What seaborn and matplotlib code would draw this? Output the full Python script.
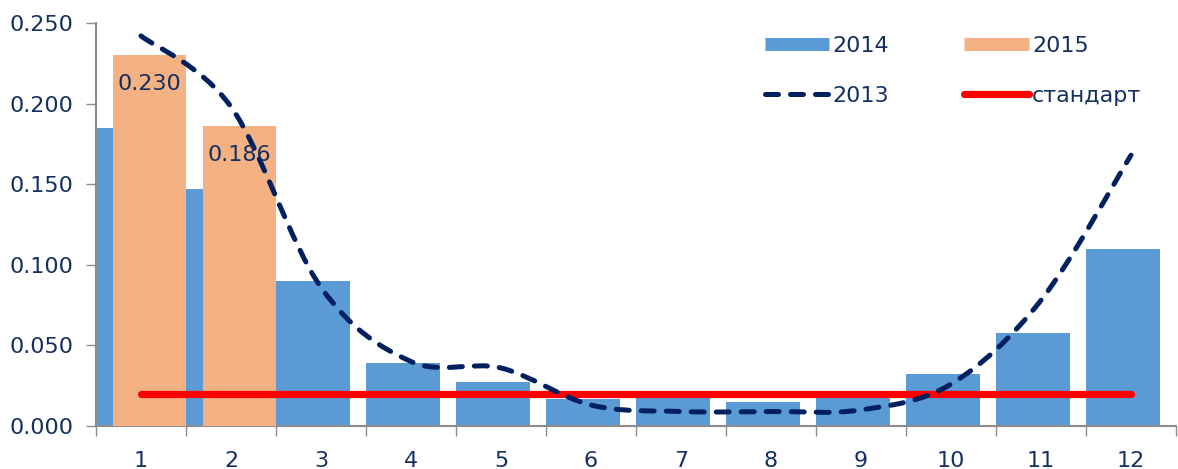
import numpy as np
import matplotlib
matplotlib.use("Agg")
import matplotlib.pyplot as plt
from matplotlib.path import Path
from matplotlib.patches import PathPatch
from matplotlib.lines import Line2D
from matplotlib import font_manager
import seaborn as sns

# data
months = np.arange(1, 13)
month_labels = ["1", "2", "3", "4", "5", "6", "7", "8", "9", "10", "11", "12"]
vals_2014 = [0.185, 0.147, 0.090, 0.039, 0.027, 0.017, 0.018, 0.015, 0.018, 0.032, 0.058, 0.110]
months_2015 = np.array([1, 2])
vals_2015 = [0.230, 0.186]
vals_2013 = [0.242, 0.198, 0.086, 0.040, 0.036, 0.013, 0.009, 0.009, 0.010, 0.026, 0.078, 0.168]
standard = [0.020, 0.020, 0.020, 0.020, 0.020, 0.020, 0.020, 0.020, 0.020, 0.020, 0.020, 0.020]
y_ticks = [0.000, 0.050, 0.100, 0.150, 0.200, 0.250]

blue = "#5B9BD5"
orange = "#F4B183"
navy = "#002060"
txt = "#14305F"
grey = "#8C8C8C"

sns.set_style("white")
names = {f.name for f in font_manager.fontManager.ttflist}
fam = "DejaVu Sans Condensed" if "DejaVu Sans Condensed" in names else "DejaVu Sans"
plt.rcParams["font.family"] = [fam, "DejaVu Sans"]
fs = 16

fig = plt.figure(figsize=(11.78, 4.69), dpi=100)
ax = fig.add_axes([96 / 1178, 43 / 469, 1080 / 1178, 403 / 469])

# bars: 2014 sits at the left of each category, 2015 overlaps it on the right
sns.barplot(x=months - 0.09, y=vals_2014, native_scale=True, width=0.82, orient="x",
            color=blue, saturation=1, linewidth=0, ax=ax, zorder=2)
sns.barplot(x=months_2015 + 0.094, y=vals_2015, native_scale=True, width=0.812, orient="x",
            color=orange, saturation=1, linewidth=0, ax=ax, zorder=3)

# standard
sns.lineplot(x=months, y=standard, color="red", linewidth=5.2, solid_capstyle="round",
             ax=ax, zorder=4)

# 2013 smoothed line (Bezier through the monthly points, like Excel)
pts = np.column_stack([months, vals_2013]).astype(float)
verts = [tuple(pts[0])]
codes = [Path.MOVETO]
n = len(pts)
for i in range(n - 1):
    p0 = pts[i - 1] if i > 0 else pts[i]
    p3 = pts[i + 2] if i + 2 < n else pts[i + 1]
    c1 = pts[i] + (pts[i + 1] - p0) / 6
    c2 = pts[i + 1] - (p3 - pts[i]) / 6
    verts += [tuple(c1), tuple(c2), tuple(pts[i + 1])]
    codes += [Path.CURVE4] * 3
lw13 = 3.6
dash = (0, (2.6, 2.4))
curve = PathPatch(Path(verts, codes), fill=False, edgecolor=navy, linewidth=lw13,
                  linestyle=dash, capstyle="round", joinstyle="round", zorder=5)
ax.add_patch(curve)

# data labels for 2015
for x, v in zip(months_2015 + 0.094, vals_2015):
    ax.annotate(f"{v:.3f}", (x, v), xytext=(0, -21), textcoords="offset points",
                ha="center", va="center", fontsize=fs, color=txt, zorder=6)

ax.set_xlim(0.5, 12.5)
ax.set_ylim(0, 0.25)
ax.set_xlabel("")
ax.set_ylabel("")

ax.set_xticks(np.arange(0.5, 13, 1))
ax.set_xticklabels([])
ax.set_xticks(months, minor=True)
ax.set_xticklabels(month_labels, minor=True)
ax.tick_params(axis="x", which="major", direction="out", length=7, width=1, color=grey)
ax.tick_params(axis="x", which="minor", length=0, pad=18, labelsize=fs, labelcolor=txt)

ax.set_yticks(y_ticks)
ax.set_yticklabels([f"{t:.3f}" for t in y_ticks])
ax.tick_params(axis="y", direction="out", length=7, width=1, color=grey, pad=9,
               labelsize=fs, labelcolor=txt)
ax.yaxis.set_ticks_position("left")
ax.xaxis.set_ticks_position("bottom")

for s in ["top", "right"]:
    ax.spines[s].set_visible(False)
for s in ["left", "bottom"]:
    ax.spines[s].set_color(grey)
    ax.spines[s].set_linewidth(1.5)

handles = [
    Line2D([], [], color=blue, linewidth=9.4, solid_capstyle="butt"),
    Line2D([], [], color=navy, linewidth=lw13, linestyle=dash, dash_capstyle="round"),
    Line2D([], [], color=orange, linewidth=9.4, solid_capstyle="butt"),
    Line2D([], [], color="red", linewidth=5.2, solid_capstyle="round"),
]
labels = ["2014", "2013", "2015", "стандарт"]
leg = ax.legend(handles, labels, ncol=2, frameon=False, fontsize=fs,
                loc="center", bbox_to_anchor=(953 / 1178, 1 - 71 / 469),
                bbox_transform=fig.transFigure, handlelength=2.9, handletextpad=0.15,
                columnspacing=3.4, labelspacing=1.35, borderpad=0)
for t in leg.get_texts():
    t.set_color(txt)

fig.savefig("out.png", dpi=100)
